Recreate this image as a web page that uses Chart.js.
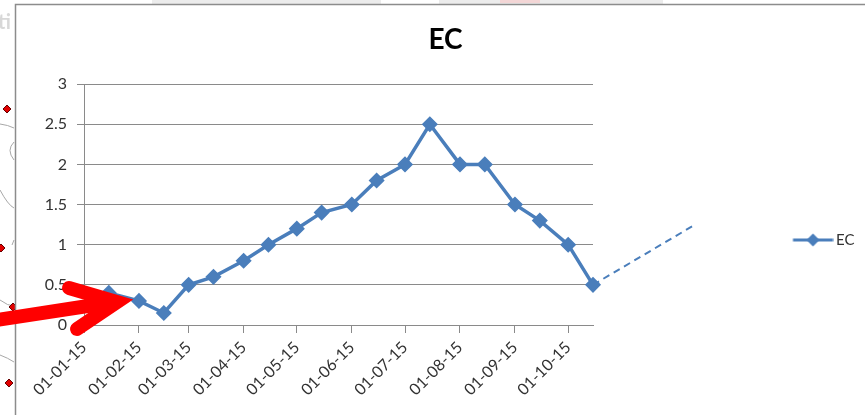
<!DOCTYPE html>
<html><head><meta charset="utf-8">
<script src="https://cdn.jsdelivr.net/npm/chart.js@4.4.1/dist/chart.umd.min.js"></script>
<style>html,body{margin:0;padding:0;background:#fff;overflow:hidden;} canvas{display:block;}</style>
</head><body>
<canvas id="c" width="865" height="415"></canvas>
<script>
// ---- data ----
const seriesName = 'EC';
const sampleDates = ['2015-01-15','2015-02-01','2015-02-15','2015-03-01','2015-03-15','2015-04-01','2015-04-15',
  '2015-05-01','2015-05-15','2015-06-01','2015-06-15','2015-07-01','2015-07-15','2015-08-01','2015-08-15',
  '2015-09-01','2015-09-15','2015-10-01','2015-10-15'];
const ecValues = [0.4,0.3,0.15,0.5,0.6,0.8,1.0,1.2,1.4,1.5,1.8,2.0,2.5,2.0,2.0,1.5,1.3,1.0,0.5];
const tickDates = ['2015-01-01','2015-02-01','2015-03-01','2015-04-01','2015-05-01','2015-06-01',
  '2015-07-01','2015-08-01','2015-09-01','2015-10-01'];
const tickLabels = ['01-01-15','01-02-15','01-03-15','01-04-15','01-05-15','01-06-15',
  '01-07-15','01-08-15','01-09-15','01-10-15'];
const yTicks = [0,0.5,1,1.5,2,2.5,3];
const yTickLabels = ['0','0.5','1','1.5','2','2.5','3'];
const axisStartDate = '2015-01-01';
const axisEndDate = '2015-10-15';
const trendDates = ['2015-10-15','2015-12-10'];
const trendValues = [0.5,1.23];

function dayNum(s){
  const p = s.split('-').map(Number);
  const a = axisStartDate.split('-').map(Number);
  return (Date.UTC(p[0],p[1]-1,p[2]) - Date.UTC(a[0],a[1]-1,a[2]))/86400000;
}

const BLUE = '#4A7EBB';
const GRID = '#8a8a8a';
const TXT = '#333333';
const FONT = 'Lato';

// legend symbol: line with diamond
const legendSym = document.createElement('canvas');
legendSym.width = 52; legendSym.height = 16;
(function(){
  const g = legendSym.getContext('2d');
  g.strokeStyle = BLUE; g.lineWidth = 3;
  g.beginPath(); g.moveTo(11.5, 8); g.lineTo(51.5, 8); g.stroke();
  g.fillStyle = BLUE;
  g.beginPath(); g.moveTo(31.5, 1.5); g.lineTo(38, 8); g.lineTo(31.5, 14.5); g.lineTo(25, 8); g.closePath(); g.fill();
})();

const decor = {
  id: 'decor',
  beforeDraw(chart){
    const c = chart.ctx;
    c.save();
    c.fillStyle = '#fff'; c.fillRect(0,0,chart.width,chart.height);
    // faint background pieces behind the chart box
    c.fillStyle = '#ececec'; c.fillRect(152,0,229,4); c.fillRect(439,0,224,4);
    c.fillStyle = '#f3d6d6'; c.fillRect(500,0,40,3);
    c.fillStyle = '#d8d8d8'; c.font = 'bold 20px ' + FONT; c.textBaseline = 'alphabetic';
    c.fillText('ti', -2, 29);
    // faint map lines
    c.strokeStyle = '#a8a8a8'; c.lineWidth = 1;
    c.beginPath(); c.moveTo(0,124); c.quadraticCurveTo(8,125,14,128); c.stroke();
    c.beginPath(); c.moveTo(14,142); c.quadraticCurveTo(6,150,14,160); c.stroke();
    c.beginPath(); c.moveTo(0,190); c.quadraticCurveTo(8,205,14,208); c.stroke();
    c.beginPath(); c.moveTo(14,240); c.lineTo(12,245); c.stroke();
    c.beginPath(); c.moveTo(0,300); c.quadraticCurveTo(8,306,14,306); c.stroke();
    c.beginPath(); c.moveTo(0,355); c.quadraticCurveTo(8,358,14,362); c.stroke();
    // red dots
    const dots = [[7,109],[1,248],[13,307],[9,383]];
    dots.forEach(([x,y])=>{
      c.fillStyle = '#e00000'; c.strokeStyle = '#600';
      c.beginPath(); c.moveTo(x,y-4); c.lineTo(x+4,y); c.lineTo(x,y+4); c.lineTo(x-4,y); c.closePath();
      c.fill(); c.stroke();
    });
    // chart box border
    c.fillStyle = '#fff'; c.fillRect(16,5,chart.width,chart.height);
    c.strokeStyle = '#8c8c8c'; c.lineWidth = 1.5;
    c.beginPath(); c.moveTo(15.5, chart.height); c.lineTo(15.5, 4.5); c.lineTo(chart.width, 4.5); c.stroke();
    c.restore();
  },
  afterLayout(chart){
    const lg = chart.legend;
    if (!lg) return;
    const w = lg.width, h = 40;
    lg.left = 776.5; lg.right = lg.left + w;
    lg.top = 222.5; lg.bottom = lg.top + h;
  },
  afterDraw(chart){
    // red annotation arrow
    const c = chart.ctx;
    c.save();
    c.strokeStyle = '#ff0000'; c.lineWidth = 14; c.lineCap = 'round'; c.lineJoin = 'miter';
    c.beginPath(); c.moveTo(-10, 321); c.lineTo(114, 302); c.stroke();
    c.beginPath(); c.moveTo(69, 288); c.lineTo(117, 302); c.lineTo(77, 329); c.stroke();
    c.restore();
  }
};

new Chart(document.getElementById('c'), {
  type: 'line',
  data: {
    datasets: [
      {
        label: seriesName,
        data: sampleDates.map((d,i)=>({x: dayNum(d), y: ecValues[i]})),
        xAxisID: 'x', yAxisID: 'y',
        borderColor: BLUE, backgroundColor: BLUE,
        borderWidth: 3.5, tension: 0, clip: false,
        pointStyle: 'rectRot', pointRadius: 7, pointBorderWidth: 1.5,
        pointBackgroundColor: BLUE, pointBorderColor: BLUE
      },
      {
        label: 'trend',
        data: trendDates.map((d,i)=>({x: dayNum(d), y: trendValues[i]})),
        xAxisID: 'x', yAxisID: 'y',
        borderColor: BLUE, borderWidth: 2, borderDash: [7,5],
        pointRadius: 0, clip: false, tension: 0
      }
    ]
  },
  options: {
    responsive: false, animation: false, devicePixelRatio: 1,
    layout: { padding: { left: 26, right: 0, top: 0, bottom: 0 } },
    plugins: {
      tooltip: { enabled: false },
      title: {
        display: true, text: seriesName, color: '#000',
        font: { family: FONT, size: 28, weight: 'bold' },
        padding: { top: 23.5, bottom: 27 }
      },
      legend: {
        display: true, position: 'chartArea', align: 'start',
        labels: {
          filter: (item) => item.datasetIndex === 0,
          usePointStyle: true, pointStyle: legendSym, pointStyleWidth: 42,
          color: '#333', font: { family: FONT, size: 15 }, padding: 10
        }
      }
    },
    scales: {
      x: {
        type: 'linear', min: dayNum(axisStartDate), max: dayNum(axisEndDate),
        afterBuildTicks: (s) => { s.ticks = tickDates.map(d => ({ value: dayNum(d) })); },
        afterFit: (s) => { s.height = 90; },
        ticks: {
          autoSkip: false, minRotation: 45, maxRotation: 45, padding: 5,
          color: TXT, font: { family: FONT, size: 16 },
          callback: (v, i) => tickLabels[i]
        },
        grid: { drawOnChartArea: false, drawTicks: true, tickLength: 8, color: GRID },
        border: { display: true, color: GRID, width: 1 }
      },
      y: {
        type: 'linear', min: 0, max: 3, position: 'left',
        afterBuildTicks: (s) => { s.ticks = yTicks.map(v => ({ value: v })); },
        afterFit: (s) => { s.width = 58; },
        ticks: { color: TXT, font: { family: FONT, size: 16 }, padding: 10,
          callback: (v, i) => yTickLabels[i] },
        grid: { color: GRID, tickLength: 7, lineWidth: 1 },
        border: { display: true, color: GRID, width: 1 }
      },
      y2: {
        type: 'linear', position: 'right', display: true,
        afterFit: (s) => { s.width = 272; },
        ticks: { display: false },
        grid: { display: false, drawTicks: false },
        border: { display: false }
      }
    }
  },
  plugins: [decor]
});
</script>
</body></html>
